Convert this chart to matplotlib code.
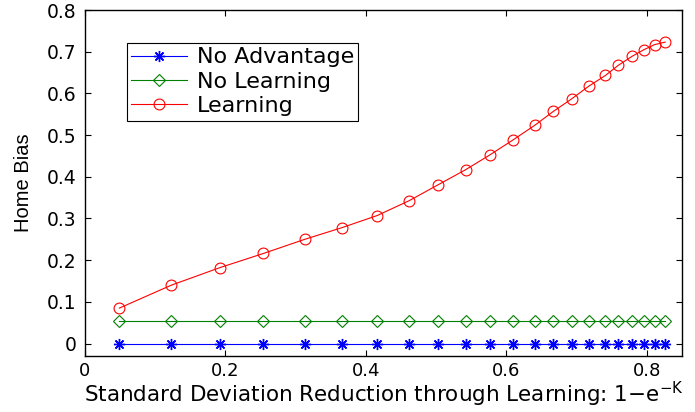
import matplotlib
matplotlib.use('Agg')
import matplotlib.pyplot as plt

# データ
sd_reduction = [0.049, 0.123, 0.192, 0.254, 0.313, 0.366, 0.416, 0.462, 0.503, 0.542,
                0.577, 0.610, 0.640, 0.667, 0.693, 0.717, 0.741, 0.759, 0.779, 0.796,
                0.811, 0.826]
no_advantage = [0.0] * 22
no_learning = [0.053] * 22
learning = [0.085, 0.140, 0.182, 0.216, 0.250, 0.278, 0.307, 0.343, 0.381, 0.417,
            0.453, 0.489, 0.523, 0.557, 0.587, 0.617, 0.643, 0.667, 0.689, 0.705,
            0.717, 0.723]

x_ticks = [0, 0.2, 0.4, 0.6, 0.8]
x_tick_labels = ['0', '0.2', '0.4', '0.6', '0.8']
y_ticks = [0, 0.1, 0.2, 0.3, 0.4, 0.5, 0.6, 0.7, 0.8]
y_tick_labels = ['0', '0.1', '0.2', '0.3', '0.4', '0.5', '0.6', '0.7', '0.8']

plt.rcParams['font.family'] = ['DejaVu Sans']
plt.rcParams['mathtext.fontset'] = 'dejavusans'

fig = plt.figure(figsize=(6.95, 4.12), dpi=100)
ax = fig.add_axes([0.1223, 0.1359, 0.859, 0.8398])

ax.plot(sd_reduction, no_advantage, color='blue', lw=0.8, marker=(8, 2, 0), ms=8,
        mew=1.0, label='No Advantage')
ax.plot(sd_reduction, no_learning, color='#008000', lw=0.8, marker='D', ms=6.5,
        mfc='none', mew=0.8, label='No Learning')
ax.plot(sd_reduction, learning, color='red', lw=0.8, marker='o', ms=7.8,
        mfc='none', mew=0.8, label='Learning')

ax.set_xlim(0, 0.85)
ax.set_ylim(-0.03, 0.8)
ax.set_xticks(x_ticks)
ax.set_xticklabels(x_tick_labels)
ax.set_yticks(y_ticks)
ax.set_yticklabels(y_tick_labels)
ax.tick_params(direction='in', top=True, right=True, length=4, width=0.8,
               labelsize=13.5, pad=6)
ax.tick_params(axis='x', labelsize=13, pad=4.5)
for s in ax.spines.values():
    s.set_linewidth(1.0)

ax.set_xlabel(r'Standard Deviation Reduction through Learning: 1$-$e$^{-\mathregular{K}}$',
              fontsize=15.5, labelpad=0)
ax.set_ylabel('Home Bias', fontsize=14.5, family='Liberation Sans', labelpad=10)

leg = ax.legend(loc='upper left', bbox_to_anchor=(0.070, 0.905), fontsize=16,
                frameon=True, fancybox=False, edgecolor='black', framealpha=1,
                borderpad=0.2, labelspacing=0.2, handlelength=2.5,
                handletextpad=0.45, borderaxespad=0)
leg.get_frame().set_linewidth(0.8)

plt.savefig('out.png', dpi=100)
